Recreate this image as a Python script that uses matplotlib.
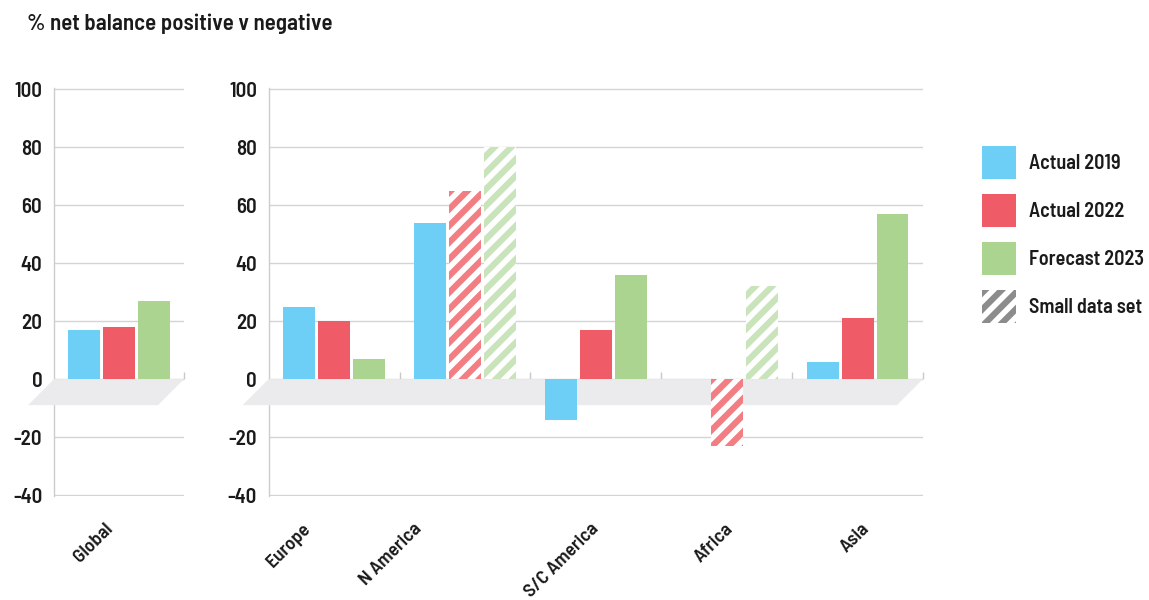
import matplotlib
matplotlib.use("Agg")
import matplotlib.pyplot as plt
import matplotlib.transforms as mtransforms
from matplotlib.patches import Patch, Polygon
import numpy as np

plt.rcParams["font.family"] = ["Barlow Semi Condensed", "DejaVu Sans"]
plt.rcParams["font.weight"] = 600
plt.rcParams["hatch.linewidth"] = 4.0

# ---- data -------------------------------------------------------------
title = "% net balance positive v negative"
series_names = ["Actual 2019", "Actual 2022", "Forecast 2023"]
small_label = "Small data set"

global_groups = ["Global"]
global_2019 = [17]
global_2022 = [18]
global_2023 = [27]
global_small_2019 = [False]
global_small_2022 = [False]
global_small_2023 = [False]

regions = ["Europe", "N America", "S/C America", "Africa", "Asia"]
region_2019 = [25, 54, -14, np.nan, 6]
region_2022 = [20, 65, 17, -23, 21]
region_2023 = [7, 80, 36, 32, 57]
region_small_2019 = [False, False, False, False, False]
region_small_2022 = [False, True, False, True, False]
region_small_2023 = [False, True, False, True, False]

yticks = [-40, -20, 0, 20, 40, 60, 80, 100]

# ---- style ------------------------------------------------------------
solid_colors = ["#6DCFF6", "#EF5B67", "#AAD490"]
light_colors = ["#9FDFF9", "#F27E84", "#C9E4BB"]
floor_color = "#EBEBED"
grid_color = "#D4D4D4"
text_color = "#1A1A1A"
bar_width = 0.244
bar_step = 0.267
floor_depth = 9.0     # in value units
floor_shift = 0.2     # in group widths

W, H = 1149, 600
fig = plt.figure(figsize=(W / 100, H / 100), dpi=100)


def px_box(x0, x1, ytop, ybot):
    return [x0 / W, 1 - ybot / H, (x1 - x0) / W, (ybot - ytop) / H]


ax_g = fig.add_axes(px_box(54, 184, 88.1, 496.2))
ax_r = fig.add_axes(px_box(268.7, 923, 88.1, 496.2))


def draw_panel(ax, groups, values, smalls, label_dx):
    n = len(groups)
    x = np.arange(n)
    ax.set_xlim(-0.5, n - 0.5)
    ax.set_ylim(-40.4, 100.4)
    ax.set_yticks(yticks)
    ax.set_yticklabels([str(t) for t in yticks])
    ax.yaxis.grid(True, color=grid_color, linewidth=1.0, zorder=0)
    ax.set_axisbelow(True)
    for side in ("top", "right", "bottom"):
        ax.spines[side].set_visible(False)
    ax.spines["left"].set_color("#CCCCCC")
    ax.spines["left"].set_linewidth(1.0)
    ax.tick_params(axis="y", length=0, pad=8.5, labelsize=15,
                   labelcolor=text_color)
    ax.set_xticks([])

    # grey floor at the zero line
    x0, x1 = -0.5, n - 0.5
    floor = Polygon([(x0, 0), (x1, 0), (x1 - floor_shift, -floor_depth),
                     (x0 - floor_shift, -floor_depth)], closed=True,
                    facecolor=floor_color, edgecolor="none", zorder=3,
                    clip_on=False)
    ax.add_patch(floor)

    # small separators between groups
    ax.vlines(np.arange(n) + 0.5, 0, 2.6, colors="#C8C8C8", linewidth=1,
              zorder=2.6, clip_on=False)

    for i, (vals, sm) in enumerate(zip(values, smalls)):
        xs = x + (i - 1) * bar_step
        for xi, v, s in zip(xs, vals, sm):
            if np.isnan(v):
                continue
            if s:
                ax.bar(xi, v, bar_width, color=light_colors[i],
                       edgecolor="white", linewidth=0, hatch="//", zorder=4)
            else:
                ax.bar(xi, v, bar_width, color=solid_colors[i],
                       linewidth=0, zorder=4)

    base = mtransforms.blended_transform_factory(ax.transData, ax.transAxes)
    for xi, name, dx in zip(x, groups, label_dx):
        tr = base + mtransforms.ScaledTranslation(dx / 100, -24 / 100,
                                                  fig.dpi_scale_trans)
        ax.text(xi, 0, name, transform=tr, rotation=45,
                rotation_mode="anchor", ha="right", va="top",
                fontsize=14, color=text_color)


draw_panel(ax_g, global_groups,
           [global_2019, global_2022, global_2023],
           [global_small_2019, global_small_2022, global_small_2023],
           [-15])
draw_panel(ax_r, regions,
           [region_2019, region_2022, region_2023],
           [region_small_2019, region_small_2022, region_small_2023],
           [-32, -52, -6, -2, 3])

fig.text(27 / W, 1 - 30 / H, title, fontsize=16.5, va="baseline",
         color=text_color)

handles = [Patch(facecolor=c, edgecolor="none") for c in solid_colors]
handles.append(Patch(facecolor="#8C8C8C", edgecolor="white", linewidth=0,
                     hatch="//"))
fig.legend(handles, series_names + [small_label], loc="upper left",
           bbox_to_anchor=(982 / W, 1 - 145.7 / H), frameon=False,
           fontsize=14.5, handlelength=1.69, handleheight=2.17,
           labelspacing=0.725, handletextpad=0.65, borderpad=0,
           borderaxespad=0, labelcolor=text_color)

fig.savefig("out.png", dpi=100)
